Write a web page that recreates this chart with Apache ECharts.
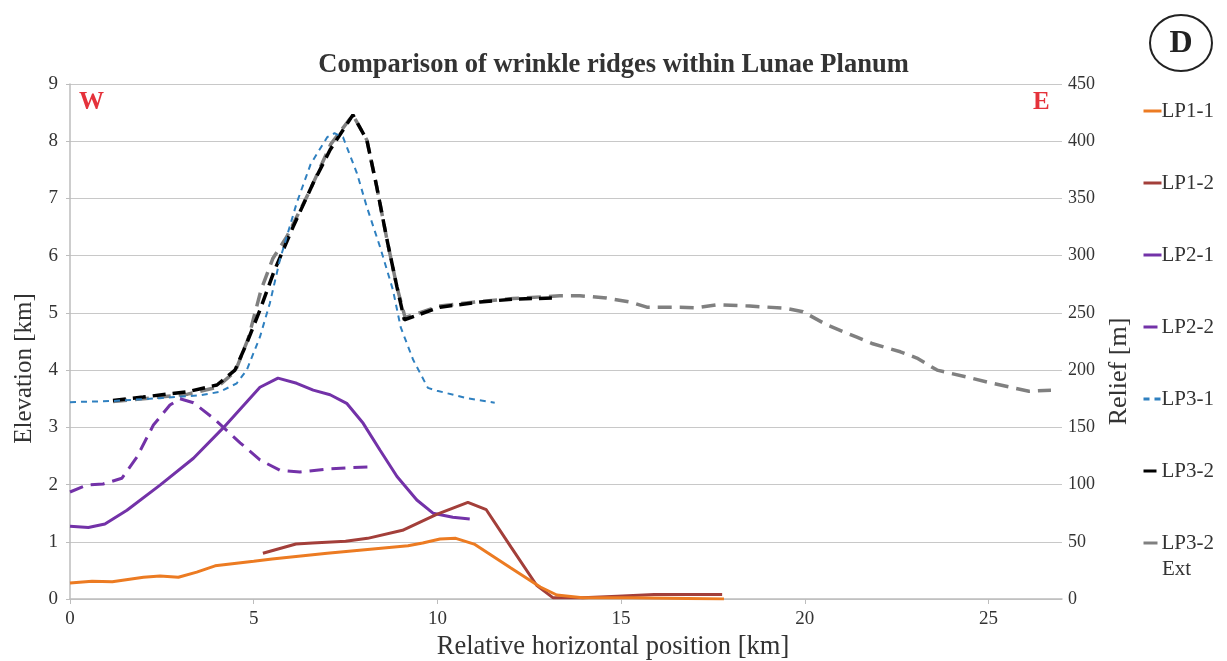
<!DOCTYPE html>
<html>
<head>
<meta charset="utf-8">
<script src="https://cdn.jsdelivr.net/npm/echarts@6/dist/echarts.min.js"></script>
<style>
html,body{margin:0;padding:0;background:#fff;}
#c{width:1227px;height:661px;}
</style>
</head>
<body>
<div id="c"></div>
<script>
// ---- data (x = relative horizontal position [km], y = elevation [km]) ----
var seriesNames = ['LP1-1','LP1-2','LP2-1','LP2-2','LP3-1','LP3-2','LP3-2 Ext'];
var xTicks = [0,5,10,15,20,25];
var lp11 = [[0,0.28],[0.6,0.31],[1.15,0.30],[2.0,0.38],[2.45,0.40],[2.95,0.38],[3.45,0.47],[3.95,0.58],[5.0,0.66],[5.5,0.70],[7.0,0.80],[9.2,0.93],[9.6,0.98],[10.07,1.05],[10.5,1.06],[11.0,0.96],[12.0,0.54],[12.8,0.21],[13.25,0.07],[13.95,0.02],[15.3,0.02],[17.8,0.0]];
var lp12 = [[5.25,0.80],[6.15,0.96],[6.6,0.98],[7.5,1.01],[8.1,1.06],[9.05,1.20],[9.98,1.48],[10.83,1.69],[11.33,1.56],[12.0,0.91],[12.7,0.24],[13.15,0.02],[13.95,0.02],[14.9,0.05],[15.9,0.08],[17.75,0.08]];
var lp21 = [[0,1.27],[0.5,1.25],[0.95,1.31],[1.55,1.55],[2.45,1.99],[3.36,2.46],[4.17,2.99],[5.17,3.70],[5.66,3.86],[6.17,3.77],[6.62,3.65],[7.08,3.57],[7.53,3.42],[7.98,3.07],[8.44,2.60],[8.9,2.14],[9.44,1.73],[9.88,1.50],[10.42,1.43],[10.88,1.40]];
var lp22 = [[0,1.87],[0.46,1.99],[0.9,2.01],[1.41,2.11],[1.82,2.48],[2.27,3.04],[2.72,3.39],[2.99,3.50],[3.36,3.43],[3.9,3.16],[4.63,2.73],[5.17,2.43],[5.71,2.25],[6.26,2.22],[6.99,2.27],[7.7,2.30],[8.3,2.31]];
var lp31 = [[0,3.44],[1.17,3.46],[2.45,3.51],[3.54,3.56],[4.08,3.62],[4.54,3.77],[4.81,4.00],[5.17,4.58],[5.44,5.17],[5.71,5.92],[6.17,6.92],[6.55,7.60],[7.0,8.07],[7.2,8.14],[7.43,8.07],[7.81,7.44],[8.08,6.85],[8.44,6.15],[8.79,5.40],[9.0,4.75],[9.34,4.18],[9.74,3.69],[9.99,3.64],[10.8,3.51],[11.56,3.43]];
var lp32 = [[1.17,3.47],[1.99,3.53],[3.18,3.62],[4.0,3.74],[4.49,4.00],[4.81,4.47],[5.17,5.05],[5.55,5.72],[6.07,6.50],[6.62,7.27],[7.08,7.85],[7.7,8.46],[8.08,8.02],[8.35,7.20],[8.63,6.27],[8.9,5.45],[9.1,4.88],[10.07,5.10],[11.16,5.19],[12.06,5.24],[13.14,5.26]];
var lp32ext = [[1.17,3.45],[2.0,3.50],[3.2,3.58],[4.0,3.70],[4.5,3.98],[4.85,4.55],[5.2,5.40],[5.52,5.95],[5.9,6.33],[6.5,7.10],[7.1,7.95],[7.7,8.46],[8.08,8.02],[8.35,7.20],[8.63,6.27],[8.9,5.45],[9.12,4.92],[10.07,5.12],[11.16,5.20],[12.06,5.25],[13.33,5.30],[13.88,5.30],[14.6,5.26],[15.24,5.19],[15.7,5.10],[16.6,5.10],[17.06,5.09],[17.6,5.14],[18.5,5.12],[19.5,5.08],[19.95,5.02],[20.6,4.79],[21.4,4.58],[21.85,4.46],[22.6,4.32],[23.05,4.21],[23.6,4.00],[24.4,3.88],[25.1,3.77],[26.1,3.63],[26.7,3.65]];

var serif = '"Liberation Serif","DejaVu Serif",serif';
var chart = echarts.init(document.getElementById('c'), null, {renderer:'canvas'});

function mk(name, data, color, width, type, z){
  return {name:name, type:'line', data:data, symbol:'none', smooth:false, z:z,
    lineStyle:{color:color, width:width, type:type}, itemStyle:{color:color}};
}

chart.setOption({
  backgroundColor:'#fff',
  animation:false,
  title:{text:'Comparison of wrinkle ridges within Lunae Planum', left:'center', top:47,
    textStyle:{fontFamily:serif, fontSize:26.5, fontWeight:'bold', color:'#333'}},
  grid:{left:70, right:165, top:84, bottom:62, containLabel:false, outerBoundsMode:'none'},
  legend:{orient:'vertical', left:1137, top:95, itemWidth:18, itemHeight:14, itemGap:50,
    data:seriesNames,
    itemStyle:{opacity:0},
    lineStyle:{width:3},
    formatter:function(n){ return n==='LP3-2 Ext' ? 'LP3-2' : n; },
    textStyle:{fontFamily:serif, fontSize:21, color:'#333', lineHeight:22, padding:[0,0,0,-5]}},
  xAxis:{type:'value', min:0, max:27, interval:5,
    name:'Relative horizontal position [km]', nameLocation:'middle', nameGap:34,
    nameTextStyle:{fontFamily:serif, fontSize:26.5, color:'#333', padding:[0,0,0,94]},
    axisLine:{show:true, lineStyle:{color:'#bdbdbd', width:1.5}},
    axisTick:{show:true, length:5, inside:false, customValues:xTicks, lineStyle:{color:'#bdbdbd'}},
    axisLabel:{customValues:xTicks, fontFamily:serif, fontSize:19, color:'#333', margin:11},
    splitLine:{show:false}},
  yAxis:[
    {type:'value', min:0, max:9, interval:1, position:'left',
     name:'Elevation [km]', nameLocation:'middle', nameGap:33, nameRotate:90,
     nameTextStyle:{fontFamily:serif, fontSize:25, color:'#333', padding:[0,54,0,0]},
     axisLine:{show:true, lineStyle:{color:'#bdbdbd', width:1.5}},
     axisTick:{show:true, length:4, lineStyle:{color:'#bdbdbd'}},
     axisLabel:{fontFamily:serif, fontSize:19, color:'#333', margin:12},
     splitLine:{show:true, lineStyle:{color:'#c8c8c8', width:1.2}}},
    {type:'value', min:0, max:450, interval:50, position:'right',
     name:'Relief [m]', nameLocation:'middle', nameGap:44, nameRotate:90,
     nameTextStyle:{fontFamily:serif, fontSize:26, color:'#333', padding:[0,60,0,0]},
     axisLine:{show:false}, axisTick:{show:false},
     axisLabel:{fontFamily:serif, fontSize:18, color:'#333', margin:6},
     splitLine:{show:false}}
  ],
  graphic:[
    {type:'text', left:79, top:90, style:{text:'W', fontFamily:serif, fontSize:25, fontWeight:'bold', fill:'#e5323b'}},
    {type:'text', left:1033, top:90, style:{text:'E', fontFamily:serif, fontSize:25, fontWeight:'bold', fill:'#e5323b'}},
    {type:'text', left:1162, top:559, style:{text:'Ext', fontFamily:serif, fontSize:21, fill:'#333'}},
    {type:'ellipse', shape:{cx:1181, cy:43, rx:31, ry:28}, style:{fill:'#fff', stroke:'#222', lineWidth:2}},
    {type:'text', x:1181, y:44, style:{text:'D', fontFamily:serif, fontSize:32, fontWeight:'bold', fill:'#222', align:'center', verticalAlign:'middle'}}
  ],
  series:[
    mk('LP1-1', lp11, '#ec7b22', 3, 'solid', 7),
    mk('LP1-2', lp12, '#a33f3a', 3, 'solid', 6),
    mk('LP2-1', lp21, '#7332a8', 3, 'solid', 5),
    mk('LP2-2', lp22, '#7332a8', 3, [14,8], 4),
    mk('LP3-1', lp31, '#2f80c0', 2, [6,5], 3),
    mk('LP3-2', lp32, '#000000', 3.5, [13,7], 2),
    mk('LP3-2 Ext', lp32ext, '#808080', 3.5, [14,8], 1)
  ]
});
</script>
</body>
</html>
